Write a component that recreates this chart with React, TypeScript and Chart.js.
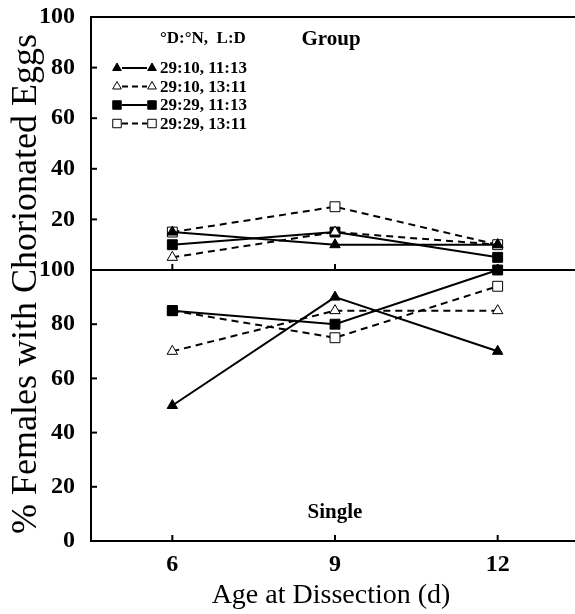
import React, { useEffect, useRef } from 'react';
import { Chart, registerables } from 'chart.js';
import { drawPoint } from 'chart.js/helpers';

Chart.register(...registerables);

// Age at dissection (days)
const ages = [6, 9, 12];
const ageTicks = [6, 9, 12];
const percentTicks = [0, 20, 40, 60, 80, 100];

// Temperature (day:night, °C) and photoperiod (L:D) treatments
const seriesNames = ['29:10, 11:13', '29:10, 13:11', '29:29, 11:13', '29:29, 13:11'];

// Females held in groups (% with chorionated eggs)
const groupWarmNightShortDay = [15, 10, 10];
const groupWarmNightLongDay = [5, 15, 10];
const groupHotNightShortDay = [10, 15, 5];
const groupHotNightLongDay = [15, 25, 10];

// Females held singly (% with chorionated eggs)
const singleWarmNightShortDay = [50, 90, 70];
const singleWarmNightLongDay = [70, 85, 85];
const singleHotNightShortDay = [85, 80, 100];
const singleHotNightLongDay = [85, 75, 94];

const legendHeader = '°D:°N,  L:D';
const groupLabel = 'Group';
const singleLabel = 'Single';
const xTitle = 'Age at Dissection (d)';
const yTitle = '% Females with Chorionated Eggs';

const SERIF = '"Liberation Serif", "Times New Roman", serif';

type SeriesStyle = { pointStyle: 'triangle' | 'rect'; filled: boolean; dash: number[] };
const seriesStyles: SeriesStyle[] = [
  { pointStyle: 'triangle', filled: true, dash: [] },
  { pointStyle: 'triangle', filled: false, dash: [7, 5] },
  { pointStyle: 'rect', filled: true, dash: [] },
  { pointStyle: 'rect', filled: false, dash: [7, 5] },
];

const groupSeries = [groupWarmNightShortDay, groupWarmNightLongDay, groupHotNightShortDay, groupHotNightLongDay];
const singleSeries = [singleWarmNightShortDay, singleWarmNightLongDay, singleHotNightShortDay, singleHotNightLongDay];

function makeDataset(values: number[], i: number, axis: string) {
  const st = seriesStyles[i];
  return {
    label: seriesNames[i],
    yAxisID: axis,
    data: ages.map((a, j) => ({ x: a, y: values[j] })),
    borderColor: '#000',
    borderWidth: 2,
    borderDash: st.dash,
    backgroundColor: st.filled ? '#000' : '#fff',
    pointStyle: st.pointStyle,
    pointRadius: st.pointStyle === 'rect' ? 7 : 6,
    pointBorderWidth: 1,
    pointBorderColor: '#000',
    pointBackgroundColor: st.filled ? '#000' : '#fff',
    fill: false,
    tension: 0,
    clip: false as const,
  };
}

function strokeLine(ctx: CanvasRenderingContext2D, x1: number, y1: number, x2: number, y2: number) {
  ctx.beginPath();
  ctx.moveTo(x1, y1);
  ctx.lineTo(x2, y2);
  ctx.stroke();
}

// Outer frame, panel divider and inward tick marks
const panelFrame = {
  id: 'panelFrame',
  beforeDatasetsDraw(chart: any) {
    const { ctx, chartArea, scales } = chart;
    const top = scales.yTop;
    const bot = scales.yBot;
    const x = scales.x;
    ctx.save();
    ctx.strokeStyle = '#000';
    ctx.lineWidth = 2;
    strokeLine(ctx, chartArea.left, top.getPixelForValue(100), chartArea.right, top.getPixelForValue(100));
    strokeLine(ctx, chartArea.left, top.getPixelForValue(0), chartArea.right, top.getPixelForValue(0));
    for (const s of [top, bot]) {
      for (const v of percentTicks) {
        const py = s.getPixelForValue(v);
        strokeLine(ctx, chartArea.left, py, chartArea.left + 6, py);
      }
    }
    const baselines = [top.getPixelForValue(0), bot.getPixelForValue(0)];
    for (const a of ageTicks) {
      const px = x.getPixelForValue(a);
      for (const py of baselines) strokeLine(ctx, px, py, px, py - 6);
    }
    ctx.restore();
  },
};

// Legend, panel captions and axis titles
const annotations = {
  id: 'annotations',
  afterDraw(chart: any) {
    const { ctx, chartArea } = chart;
    ctx.save();
    ctx.fillStyle = '#000';
    ctx.strokeStyle = '#000';

    // legend
    ctx.font = `bold 17px ${SERIF}`;
    ctx.textAlign = 'left';
    ctx.textBaseline = 'middle';
    ctx.fillText(legendHeader, 160, 39);
    seriesNames.forEach((name, i) => {
      const st = seriesStyles[i];
      const y = 68 + i * 18.5;
      ctx.lineWidth = 2;
      ctx.setLineDash(st.dash.length ? [6, 4] : []);
      strokeLine(ctx, 122, y, 147, y);
      ctx.setLineDash([]);
      ctx.fillStyle = st.filled ? '#000' : '#fff';
      ctx.lineWidth = 1;
      const opts = { pointStyle: st.pointStyle, radius: st.pointStyle === 'rect' ? 6 : 5, rotation: 0, borderWidth: 1 };
      drawPoint(ctx, opts as any, 117, y);
      drawPoint(ctx, opts as any, 152, y);
      ctx.fillStyle = '#000';
      ctx.fillText(name, 160, y + 1);
    });

    // panel captions
    ctx.font = `bold 21px ${SERIF}`;
    ctx.textAlign = 'center';
    ctx.fillText(groupLabel, 331, 40);
    ctx.fillText(singleLabel, 335, 513);

    // axis titles
    ctx.font = `28px ${SERIF}`;
    ctx.textBaseline = 'middle';
    ctx.fillText(xTitle, 331, 596);
    ctx.save();
    ctx.translate(27, (chartArea.top + chartArea.bottom) / 2 + 5);
    ctx.rotate(-Math.PI / 2);
    ctx.font = `36px ${SERIF}`;
    ctx.fillText(yTitle, 0, 0);
    ctx.restore();

    ctx.restore();
  },
};

const tickFont = { family: SERIF, size: 24, weight: 'bold' as const };

function zeroPadding(s: any) {
  s.paddingTop = 0;
  s.paddingBottom = 0;
  s.paddingLeft = 0;
  s.paddingRight = 0;
}

function percentAxis(weight: number, hideZero: boolean) {
  return {
    type: 'linear' as const,
    position: 'left' as const,
    stack: 'panels',
    stackWeight: weight,
    min: 0,
    max: 100,
    afterBuildTicks: (s: any) => {
      s.ticks = percentTicks.map((v) => ({ value: v }));
    },
    afterFit: (s: any) => {
      s.width = 91;
      zeroPadding(s);
    },
    ticks: {
      font: tickFont,
      color: '#000',
      padding: 8,
      autoSkip: false,
      callback: (v: any) => (hideZero && v === 0 ? '' : String(v)),
    },
    grid: { display: false },
    border: { display: true, color: '#000', width: 2 },
  };
}

export default function App() {
  const ref = useRef<HTMLCanvasElement>(null);

  useEffect(() => {
    const canvas = ref.current;
    if (!canvas) return;
    const datasets = [
      ...groupSeries.map((v, i) => makeDataset(v, i, 'yTop')),
      ...singleSeries.map((v, i) => makeDataset(v, i, 'yBot')),
    ];
    const chart = new Chart(canvas, {
      type: 'line',
      data: { datasets },
      options: {
        animation: false,
        responsive: false,
        layout: { autoPadding: false, padding: { top: 17, left: 0, right: 0, bottom: 0 } },
        plugins: { legend: { display: false }, tooltip: { enabled: false } },
        scales: {
          x: {
            type: 'linear',
            position: 'bottom',
            min: 4.5,
            max: 13.5,
            afterBuildTicks: (s: any) => {
              s.ticks = ageTicks.map((v) => ({ value: v }));
            },
            afterFit: (s: any) => {
              s.height = 73;
              zeroPadding(s);
            },
            ticks: { font: tickFont, color: '#000', padding: 1, maxRotation: 0, autoSkip: false },
            grid: { display: false },
            border: { display: true, color: '#000', width: 2 },
          },
          // the lower (single) panel is listed first so that it is stacked below
          yBot: percentAxis(271, false),
          yTop: percentAxis(253, true),
        },
      } as any,
      plugins: [panelFrame, annotations],
    });
    return () => chart.destroy();
  }, []);

  return (
    <div style={{ position: 'fixed', left: 0, top: 0, width: 575, height: 614, overflow: 'hidden', background: '#fff' }}>
      <canvas ref={ref} width={579} height={614} style={{ display: 'block' }} />
    </div>
  );
}
